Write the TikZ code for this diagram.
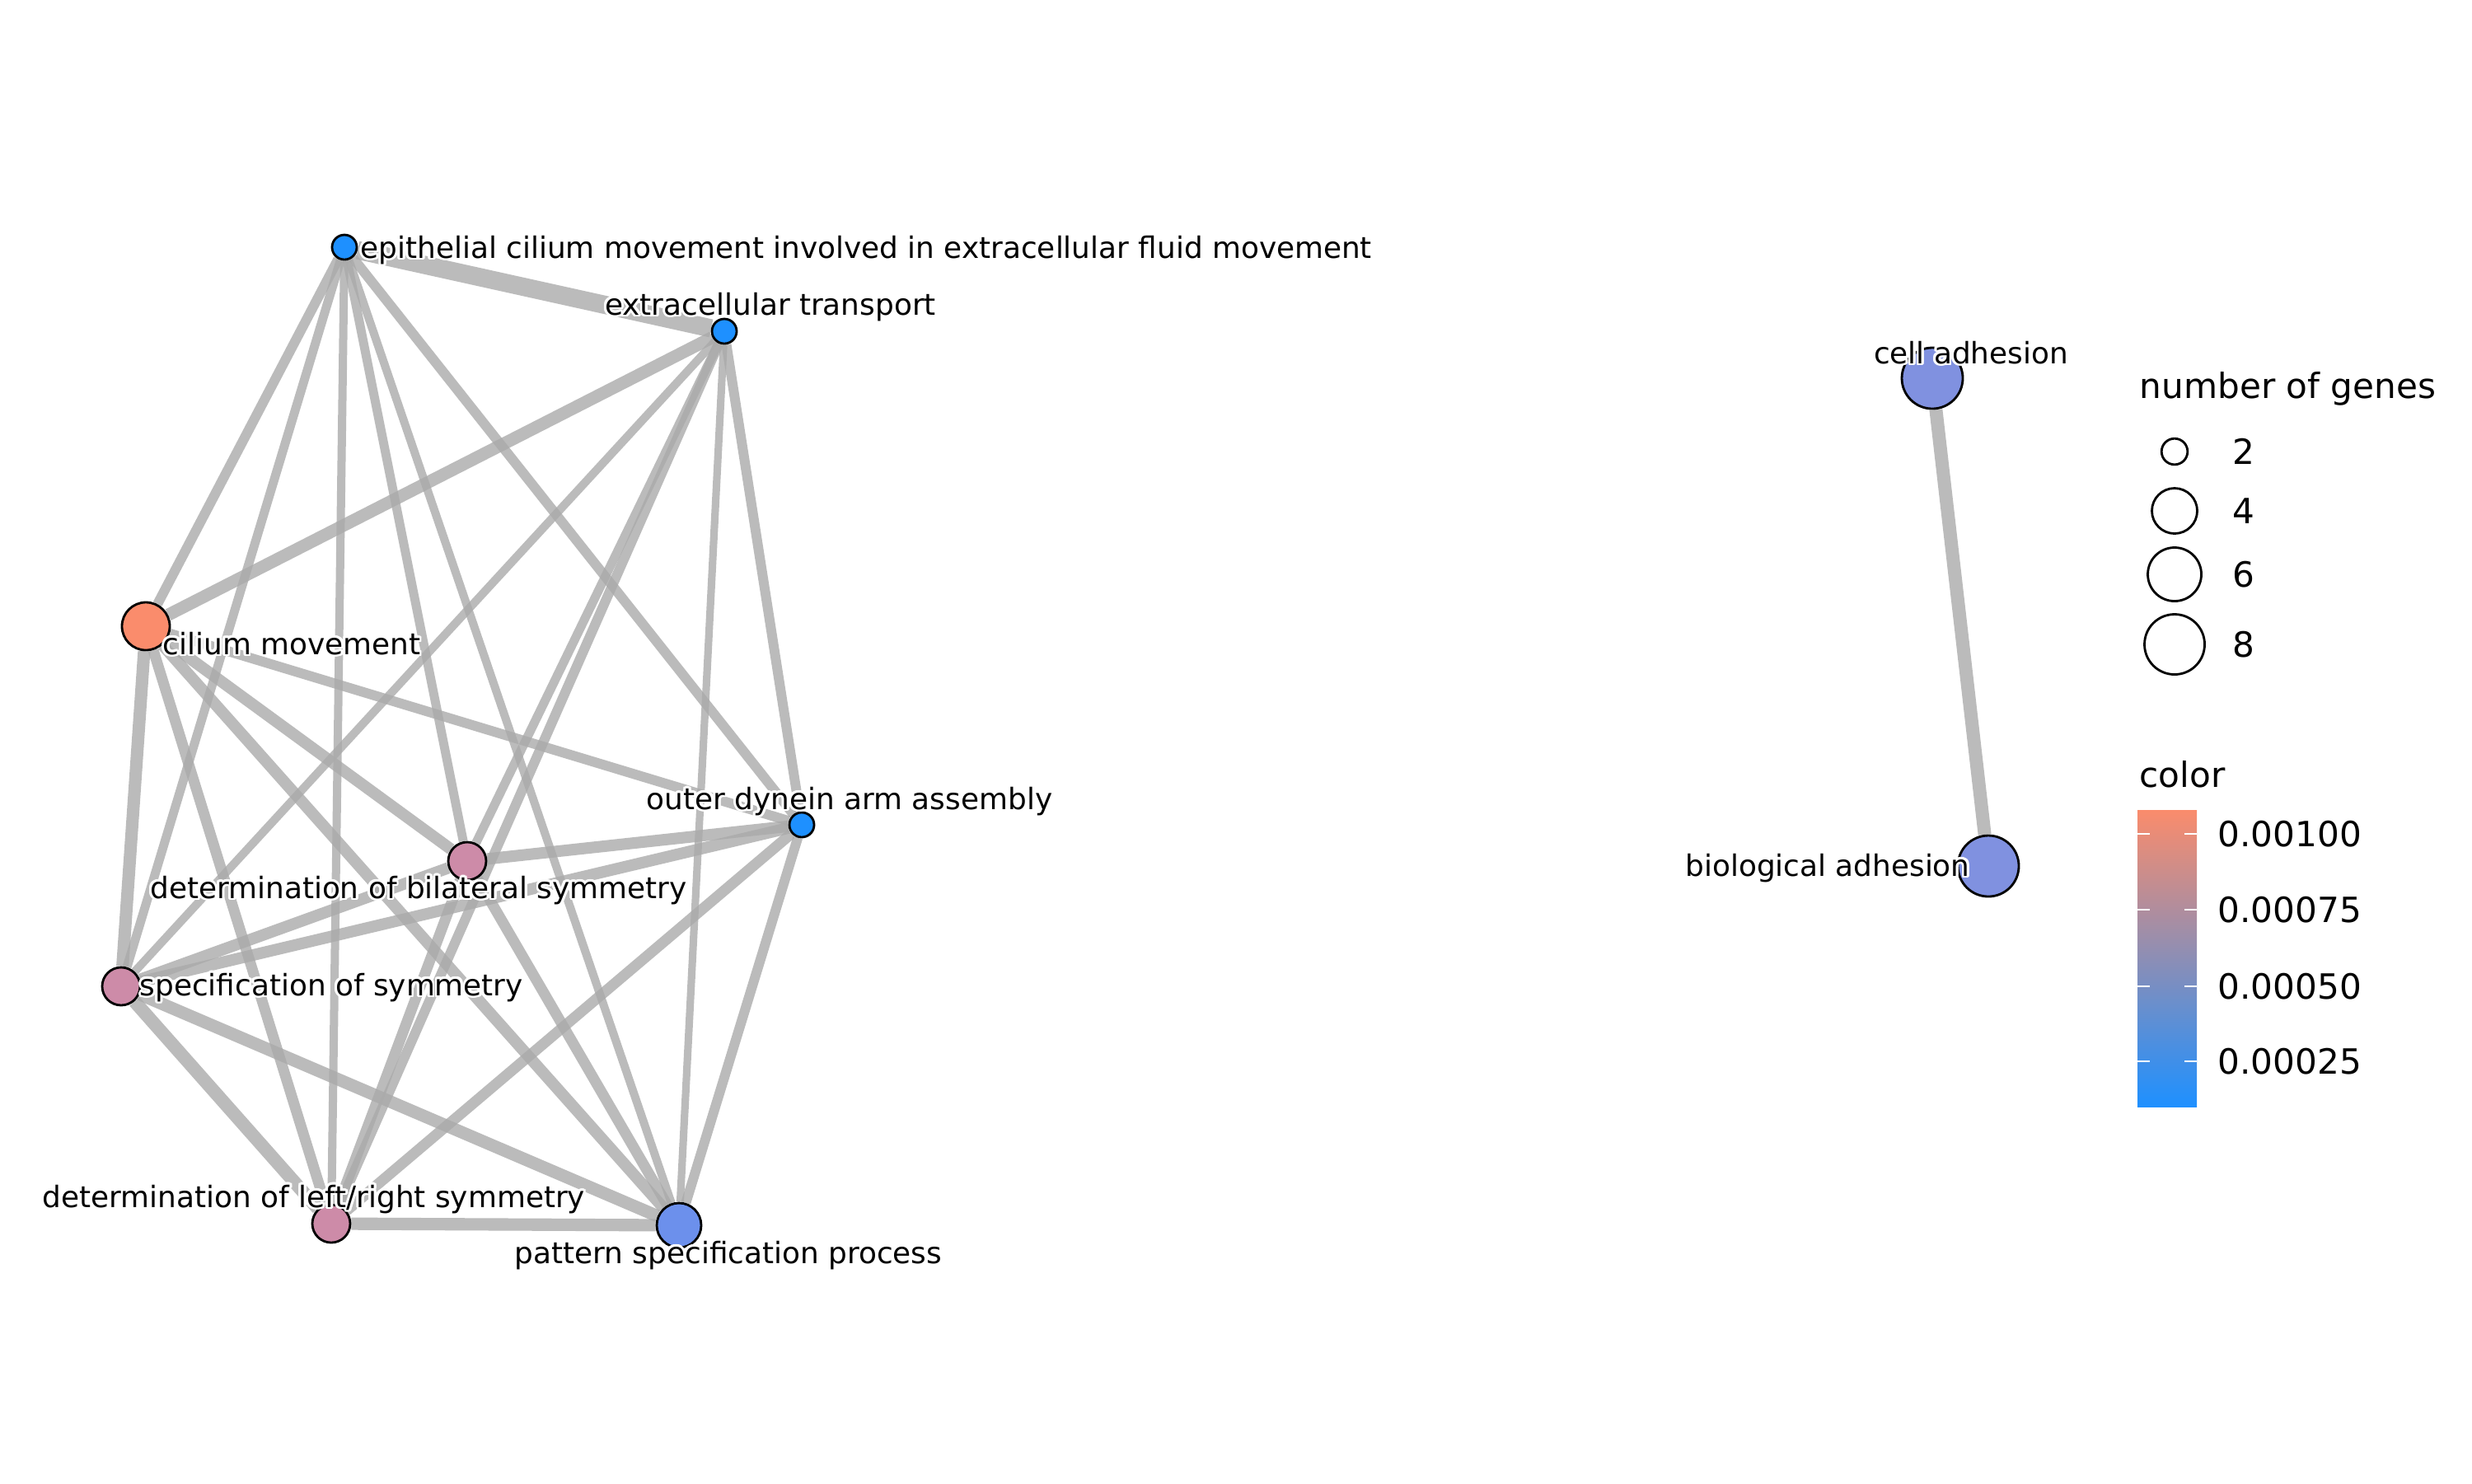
\documentclass[tikz,border=0pt]{standalone}
\usepackage{fontspec}
\setmainfont{DejaVu Sans}
\usepackage[copies]{contour}
\contourlength{0.8pt}
\contournumber{16}
\usetikzlibrary{backgrounds}

\definecolor{edgegray}{RGB}{170,170,170}
\definecolor{pvhigh}{RGB}{250,140,108}
\definecolor{pvmid}{RGB}{205,139,168}
\definecolor{pvlow}{RGB}{108,144,236}
\definecolor{pvadh}{RGB}{128,145,224}
\definecolor{pvmin}{RGB}{30,144,255}
\newcommand{\halo}[1]{\contour{white}{#1}}

\begin{document}
\begin{tikzpicture}[
    term/.style={circle, draw=black, line width=0.8pt, inner sep=0pt, minimum size=#1},
    lnk/.style={draw=edgegray, draw opacity=0.8, line width=#1},
    lbl/.style={inner sep=0pt, font=\fontsize{10.2}{12}\selectfont},
    key/.style={inner sep=0pt, font=\fontsize{12}{14}\selectfont}
]
\useasboundingbox (0,0) rectangle (30,-18);

% terms
\node[term=0.30cm, fill=pvmin] (epi) at (4.18,-3.00) {};
\node[term=0.30cm, fill=pvmin] (ext) at (8.79,-4.02) {};
\node[term=0.58cm, fill=pvhigh] (cil) at (1.77,-7.60) {};
\node[term=0.30cm, fill=pvmin] (dyn) at (9.73,-10.01) {};
\node[term=0.46cm, fill=pvmid] (bil) at (5.67,-10.45) {};
\node[term=0.46cm, fill=pvmid] (spec) at (1.47,-11.97) {};
\node[term=0.46cm, fill=pvmid] (lr) at (4.02,-14.85) {};
\node[term=0.54cm, fill=pvlow] (pat) at (8.24,-14.87) {};
\node[term=0.74cm, fill=pvadh] (cell) at (23.45,-4.59) {};
\node[term=0.74cm, fill=pvadh] (bio) at (24.13,-10.51) {};

% similarity edges
\begin{scope}[on background layer]
\draw[lnk=6.3pt] (epi) -- (ext);
\draw[lnk=3.4pt] (epi) -- (cil);
\draw[lnk=3.1pt] (epi) -- (spec);
\draw[lnk=2.85pt] (epi) -- (lr);
\draw[lnk=3.1pt] (epi) -- (bil);
\draw[lnk=2.85pt] (epi) -- (pat);
\draw[lnk=3.4pt] (epi) -- (dyn);
\draw[lnk=4.3pt] (ext) -- (cil);
\draw[lnk=2.85pt] (ext) -- (spec);
\draw[lnk=3.1pt] (ext) -- (bil);
\draw[lnk=3.4pt] (ext) -- (lr);
\draw[lnk=2.6pt] (ext) -- (pat);
\draw[lnk=3.4pt] (ext) -- (dyn);
\draw[lnk=4.3pt] (cil) -- (spec);
\draw[lnk=3.7pt] (cil) -- (lr);
\draw[lnk=4pt] (cil) -- (bil);
\draw[lnk=3.4pt] (cil) -- (dyn);
\draw[lnk=4pt] (cil) -- (pat);
\draw[lnk=4pt] (spec) -- (bil);
\draw[lnk=4pt] (spec) -- (dyn);
\draw[lnk=4.55pt] (spec) -- (lr);
\draw[lnk=4.3pt] (spec) -- (pat);
\draw[lnk=3.7pt] (lr) -- (bil);
\draw[lnk=3.7pt] (lr) -- (dyn);
\draw[lnk=4.3pt] (lr) -- (pat);
\draw[lnk=4pt] (bil) -- (dyn);
\draw[lnk=3.7pt] (bil) -- (pat);
\draw[lnk=3.4pt] (dyn) -- (pat);
\draw[lnk=4.55pt] (cell) -- (bio);
\end{scope}

% term labels
\node[lbl, anchor=base west] (epiL) at (4.37,-3.13) {\halo{epithelial cilium movement involved in extracellular fluid movement}};
\node[lbl, anchor=base] (extL) at (9.35,-3.82) {\halo{extracellular transport}};
\node[lbl, anchor=base west] (cilL) at (1.97,-7.94) {\halo{cilium movement}};
\node[lbl, anchor=base] (dynL) at (10.31,-9.82) {\halo{outer dynein arm assembly}};
\node[lbl, anchor=base] (bilL) at (5.08,-10.90) {\halo{determination of bilateral symmetry}};
\node[lbl, anchor=base west] (specL) at (1.69,-12.08) {\halo{specification of symmetry}};
\node[lbl, anchor=base] (lrL) at (3.81,-14.65) {\halo{determination of left/right symmetry}};
\node[lbl, anchor=base] (patL) at (8.84,-15.33) {\halo{pattern specification process}};
\node[lbl, anchor=base] (cellL) at (23.92,-4.41) {\halo{cell adhesion}};
\node[lbl, anchor=base] (bioL) at (22.18,-10.63) {\halo{biological adhesion}};

% legend: size
\node[key, anchor=base west] (sizeT) at (25.96,-4.83) {number of genes};
\foreach \y/\r/\n in {-5.48/0.316/2, -6.20/0.55/4, -6.97/0.65/6, -7.82/0.73/8} {
  \node[term=\r cm, fill=white] (g\n) at (26.39,\y) {};
  \node[key, anchor=west] (g\n L) at (27.09,\y) {\n};
}

% legend: colour
\node[key, anchor=base west] (colT) at (25.96,-9.55) {color};
\shade[top color=pvhigh, middle color={rgb,255:red,182;green,138;blue,192}, bottom color=pvmin]
  (25.94,-9.83) rectangle (26.66,-13.43);
\foreach \y/\v in {-10.12/0.00100, -11.04/0.00075, -11.97/0.00050, -12.88/0.00025} {
  \draw[white, line width=0.5pt] (25.94,\y) -- (26.09,\y);
  \draw[white, line width=0.5pt] (26.51,\y) -- (26.66,\y);
  \node[key, anchor=west] at (26.91,\y) {\v};
}
\end{tikzpicture}
\end{document}
